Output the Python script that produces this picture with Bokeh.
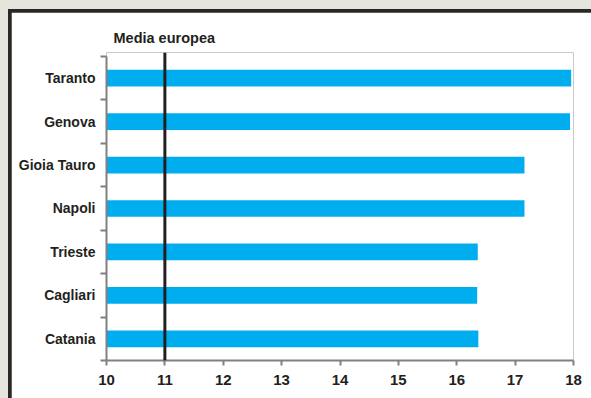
from bokeh.plotting import figure
from bokeh.models import Range1d, FixedTicker, Span, LinearAxis, ColumnDataSource, Title
from bokeh.layouts import column
from bokeh.embed import file_html
from bokeh.resources import INLINE

# Data
ports = ["Taranto", "Genova", "Gioia Tauro", "Napoli", "Trieste", "Cagliari", "Catania"]
values = [17.96, 17.94, 17.16, 17.16, 16.36, 16.35, 16.37]
media_label = "Media europea"
media_value = 11
x_ticks = [10, 11, 12, 13, 14, 15, 16, 17, 18]

n = len(ports)
ypos = [n - 1 - i for i in range(n)]  # Taranto at top
boundaries = [k - 0.5 for k in range(n + 1)]

TEXT = "#231f20"
AXIS = "#808080"
BAR = "#00aeef"
FONT = "'Liberation Sans', Arial, sans-serif"
NFONT = "'Liberation Sans Narrow', 'Arial Narrow', 'Liberation Sans', sans-serif"

title = Title(text=media_label, align="left", offset=7, standoff=13,
              text_font=FONT, text_font_style="bold", text_font_size="14.5px", text_color=TEXT)

p = figure(width=580, height=386, output_backend="svg", toolbar_location=None,
           x_range=Range1d(x_ticks[0], x_ticks[-1]), y_range=Range1d(-0.5, n - 0.408),
           min_border_left=95, min_border_right=18, min_border_top=40, min_border_bottom=38,
           border_fill_color="white", background_fill_color="white",
           x_axis_type=None, y_axis_type=None, title=title)
p.outline_line_color = "white"
p.outline_line_alpha = 0
p.grid.visible = False

src = ColumnDataSource(dict(y=ypos, v=values, base=[x_ticks[0]] * n))
p.hbar(y="y", left="base", right="v", height=0.385, source=src, fill_color=BAR, line_color=None)

# x axis
xa = LinearAxis(ticker=FixedTicker(ticks=x_ticks))
xa.axis_line_color = AXIS
xa.axis_line_width = 2
xa.major_tick_line_color = AXIS
xa.major_tick_line_width = 2
xa.major_tick_out = 5
xa.major_tick_in = 0
xa.minor_tick_line_color = None
xa.major_label_standoff = 9
xa.major_label_text_font = NFONT
xa.major_label_text_font_style = "bold"
xa.major_label_text_font_size = "15px"
xa.major_label_text_color = TEXT
p.add_layout(xa, "below")

# y axis
ya = LinearAxis(ticker=FixedTicker(ticks=ypos, minor_ticks=boundaries), bounds=(-0.5, n - 0.5))
ya.major_label_overrides = {y: name for y, name in zip(ypos, ports)}
ya.axis_line_color = AXIS
ya.axis_line_width = 2
ya.major_tick_line_color = None
ya.major_tick_out = 0
ya.major_tick_in = 0
ya.minor_tick_line_color = AXIS
ya.minor_tick_line_width = 2
ya.minor_tick_out = 6
ya.minor_tick_in = 0
ya.major_label_standoff = 5
ya.major_label_text_font = FONT
ya.major_label_text_font_style = "bold"
ya.major_label_text_font_size = "14px"
ya.major_label_text_color = TEXT
p.add_layout(ya, "left")

# Media europea line
p.add_layout(Span(location=media_value, dimension="height", line_color=TEXT, line_width=3))

p.margin = (3, 0, 0, 3)
inner = column(p, margin=(9, 0, 0, 8), styles={"background-color": "#2a2727"})
outer = column(inner, width=591, height=398, styles={"background-color": "#e5e4dd", "overflow": "hidden"})

open("out.html", "w").write(file_html(outer, INLINE))
